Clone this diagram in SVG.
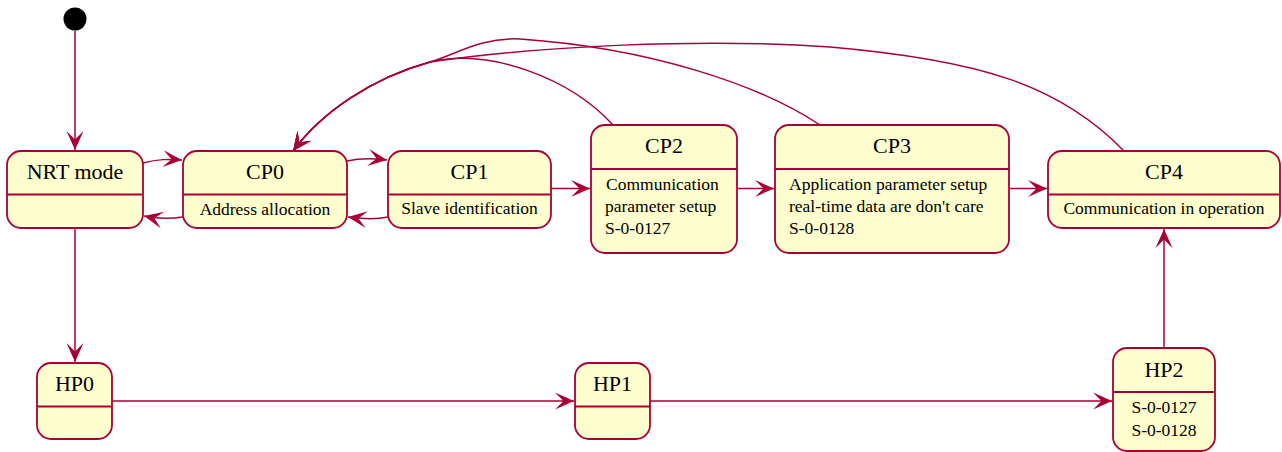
<svg xmlns="http://www.w3.org/2000/svg" width="1282" height="452" viewBox="0 0 1282 452">
  <style>
    .box { fill: #FEFECE; stroke: #A80036; stroke-width: 1.8; }
    .sep { stroke: #A80036; stroke-width: 1.8; fill: none; }
    .link { fill: none; stroke: #A80036; stroke-width: 1.5; marker-end: url(#arrow); }
    text { font-family: 'Liberation Serif', 'DejaVu Serif', 'Times New Roman', Times, serif; fill: #000; }
    .name { font-size: 22px; text-anchor: middle; }
    .desc { font-size: 17.5px; }
    .mid { text-anchor: middle; }
  </style>
  <defs>
    <marker id="arrow" viewBox="-20 -10 22 20" refX="0" refY="0" markerWidth="22" markerHeight="20" markerUnits="userSpaceOnUse" orient="auto">
      <path d="M0,0 L-19,-8.5 L-10.5,0 L-19,8.5 Z" fill="#A80036"/>
    </marker>
    <clipPath id="bodyClip">
      <rect x="0" y="0" width="1282" height="235.5"/>
    </clipPath>
  </defs>

  <!-- initial pseudo-state -->
  <g id="start">
    <circle cx="75" cy="19" r="11.5" fill="#000"/>
  </g>

  <!-- transitions -->
  <g id="connectors">
    <path class="link" d="M75,31 L75,150"/>
    <path class="link" d="M143,163 C158,159 168,159 182,160"/>
    <path class="link" d="M183,217 C170,219 158,219 144,216"/>
    <path class="link" d="M347,161 C360,158 372,158 387,160"/>
    <path class="link" d="M388,217 C375,220 362,219 348,217"/>
    <path class="link" d="M551,188.5 L590,188.5"/>
    <path class="link" d="M737,188.5 L774,188.5"/>
    <path class="link" d="M1009,188.5 L1047,188.5"/>
    <path class="link" d="M613,125 C570,78 490,48 430,62 C372,78 322,112 293,151"/>
    <path class="link" d="M820,125 C760,85 650,48 520,39 C480,37 455,55 430,62 C372,78 322,112 293,151"/>
    <path class="link" d="M1124,151 C1060,85 980,60 830,47 C700,38 540,46 430,62 C372,78 322,112 293,151"/>
    <path class="link" d="M75,228 L75,362"/>
    <path class="link" d="M112,401 L574,401"/>
    <path class="link" d="M650,401 L1112,401"/>
    <path class="link" d="M1164,348 L1164,229"/>
  </g>

  <g id="nrt-mode">
    <rect class="box" x="7" y="151" width="136" height="77" rx="14"/>
    <line class="sep" x1="7" y1="194.5" x2="143" y2="194.5"/>
    <text class="name" x="75" y="179">NRT mode</text>
  </g>

  <g id="cp0">
    <rect class="box" x="183" y="151" width="164" height="77" rx="14"/>
    <line class="sep" x1="183" y1="194.5" x2="347" y2="194.5"/>
    <text class="name" x="265" y="179">CP0</text>
    <text class="desc mid" x="265" y="215">Address allocation</text>
  </g>

  <g id="cp1">
    <rect class="box" x="388" y="151" width="163" height="77" rx="14"/>
    <line class="sep" x1="388" y1="194.5" x2="551" y2="194.5"/>
    <text class="name" x="469.5" y="179">CP1</text>
    <text class="desc mid" x="469.5" y="214">Slave identification</text>
  </g>

  <g id="cp2">
    <rect class="box" x="591" y="125" width="146" height="128" rx="14"/>
    <line class="sep" x1="591" y1="169" x2="737" y2="169"/>
    <text class="name" x="664" y="153">CP2</text>
    <g clip-path="url(#bodyClip)">
      <text class="desc" x="606" y="190">Communication</text>
      <text class="desc" x="605" y="212">parameter setup</text>
      <text class="desc" x="605" y="234">S-0-0127</text>
    </g>
  </g>

  <g id="cp3">
    <rect class="box" x="775" y="125" width="234" height="128" rx="14"/>
    <line class="sep" x1="775" y1="169" x2="1009" y2="169"/>
    <text class="name" x="892" y="153">CP3</text>
    <g clip-path="url(#bodyClip)">
      <text class="desc" x="789" y="190">Application parameter setup</text>
      <text class="desc" x="789" y="212">real-time data are don't care</text>
      <text class="desc" x="789" y="234">S-0-0128</text>
    </g>
  </g>

  <g id="cp4">
    <rect class="box" x="1048" y="151" width="232" height="77" rx="14"/>
    <line class="sep" x1="1048" y1="194.5" x2="1280" y2="194.5"/>
    <text class="name" x="1164" y="179">CP4</text>
    <text class="desc mid" x="1164" y="214">Communication in operation</text>
  </g>

  <g id="hp0">
    <rect class="box" x="37" y="363" width="75" height="76" rx="14"/>
    <line class="sep" x1="37" y1="406.5" x2="112" y2="406.5"/>
    <text class="name" x="74.5" y="391">HP0</text>
  </g>

  <g id="hp1">
    <rect class="box" x="575" y="363" width="75" height="76" rx="14"/>
    <line class="sep" x1="575" y1="406.5" x2="650" y2="406.5"/>
    <text class="name" x="612.5" y="391">HP1</text>
  </g>

  <g id="hp2">
    <rect class="box" x="1113" y="348" width="102" height="103" rx="14"/>
    <line class="sep" x1="1113" y1="392" x2="1215" y2="392"/>
    <text class="name" x="1164" y="377">HP2</text>
    <text class="desc mid" x="1164" y="413">S-0-0127</text>
    <text class="desc mid" x="1164" y="436">S-0-0128</text>
  </g>
</svg>
